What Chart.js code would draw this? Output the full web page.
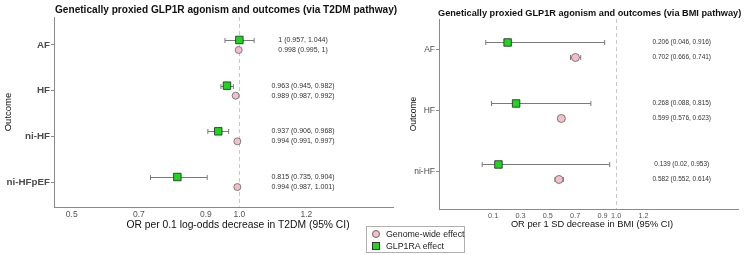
<!DOCTYPE html>
<html>
<head>
<meta charset="utf-8">
<script src="https://cdn.jsdelivr.net/npm/chart.js@4/dist/chart.umd.min.js"></script>
<style>
  html, body { margin: 0; padding: 0; background: #ffffff; }
  body { width: 745px; height: 255px; position: relative; overflow: hidden; font-family: "Liberation Sans", Arial, sans-serif; }
  #c1 { position: absolute; left: 0; top: 0; }
  #c2 { position: absolute; left: 400px; top: 0; }
  #legend { position: absolute; left: 366px; top: 226px; width: 99px; height: 27px; border: 1px solid #b0b0b0; background: #fff; box-sizing: border-box; font-size: 8.8px; color: #222; }
  .li { position: absolute; left: 5px; height: 12px; line-height: 12px; white-space: nowrap; }
  .li span.m { display: inline-block; vertical-align: middle; margin-right: 6px; margin-top: -2px; box-sizing: border-box; }
  .circ { width: 8px; height: 8px; border-radius: 50%; background: #f5bfca; border: 1px solid #666; }
  .sq { width: 8px; height: 8px; background: #1ed61e; border: 1px solid #333; }
</style>
</head>
<body>
<canvas id="c1" width="400" height="255"></canvas>
<canvas id="c2" width="345" height="255"></canvas>
<div id="legend">
  <div class="li" style="top:1px"><span class="m circ"></span>Genome-wide effect</div>
  <div class="li" style="top:13px"><span class="m sq"></span>GLP1RA effect</div>
</div>
<script>
// ---------- DATA: left panel (via T2DM pathway) ----------
const t2dmOutcomes = ['AF', 'HF', 'ni-HF', 'ni-HFpEF'];
const t2dmGlp1raEst = [1, 0.963, 0.937, 0.815];
const t2dmGlp1raLo  = [0.957, 0.945, 0.906, 0.735];
const t2dmGlp1raHi  = [1.044, 0.982, 0.968, 0.904];
const t2dmGenomeEst = [0.998, 0.989, 0.994, 0.994];
const t2dmGenomeLo  = [0.995, 0.987, 0.991, 0.987];
const t2dmGenomeHi  = [1, 0.992, 0.997, 1.001];
const t2dmXTicks = [0.5, 0.7, 0.9, 1.0, 1.2];

// ---------- DATA: right panel (via BMI pathway) ----------
const bmiOutcomes = ['AF', 'HF', 'ni-HF'];
const bmiGlp1raEst = [0.206, 0.268, 0.139];
const bmiGlp1raLo  = [0.046, 0.088, 0.02];
const bmiGlp1raHi  = [0.916, 0.815, 0.953];
const bmiGenomeEst = [0.702, 0.599, 0.582];
const bmiGenomeLo  = [0.666, 0.576, 0.552];
const bmiGenomeHi  = [0.741, 0.623, 0.614];
const bmiXTicks = [0.1, 0.3, 0.5, 0.7, 0.9, 1.0, 1.2];

const GREEN = '#1ed61e', PINK = '#f5bfca';

function fmt(e, l, h) { return e + ' (' + l + ', ' + h + ')'; }

function buildPanel(canvasId, p) {
  const n = p.cats.length;
  const gw = [], glp = [];
  for (let i = 0; i < n; i++) {
    glp.push({ x: p.glpEst[i], y: i + 1 - p.dodge, lo: p.glpLo[i], hi: p.glpHi[i] });
    gw.push({ x: p.gwEst[i], y: i + 1 + p.dodge, lo: p.gwLo[i], hi: p.gwHi[i] });
  }
  const forest = {
    id: 'forest_' + canvasId,
    beforeDatasetsDraw(chart) {
      const ctx = chart.ctx, xs = chart.scales.x, ys = chart.scales.y, a = chart.chartArea;
      ctx.save();
      ctx.strokeStyle = '#c8c8c8'; ctx.lineWidth = 1; ctx.setLineDash([4, 3]);
      const rx = Math.round(xs.getPixelForValue(1)) + 0.5;
      ctx.beginPath(); ctx.moveTo(rx, a.top); ctx.lineTo(rx, a.bottom); ctx.stroke();
      ctx.setLineDash([]);
      ctx.strokeStyle = '#7a7a7a'; ctx.lineWidth = 1;
      chart.data.datasets.forEach(ds => {
        ds.data.forEach(d => {
          const y = Math.round(ys.getPixelForValue(d.y)) + 0.5;
          const x1 = xs.getPixelForValue(d.lo), x2 = xs.getPixelForValue(d.hi);
          ctx.beginPath();
          ctx.moveTo(x1, y); ctx.lineTo(x2, y);
          ctx.moveTo(x1, y - p.cap); ctx.lineTo(x1, y + p.cap);
          ctx.moveTo(x2, y - p.cap); ctx.lineTo(x2, y + p.cap);
          ctx.stroke();
        });
      });
      ctx.restore();
    },
    afterDraw(chart) {
      const ctx = chart.ctx, xs = chart.scales.x, ys = chart.scales.y, a = chart.chartArea;
      ctx.save();
      ctx.fillStyle = '#333'; ctx.font = p.labelFont; ctx.textAlign = 'center'; ctx.textBaseline = 'middle';
      const lx = xs.getPixelForValue(p.labelX);
      for (let i = 0; i < n; i++) {
        ctx.fillText(fmt(p.glpEst[i], p.glpLo[i], p.glpHi[i]), lx, ys.getPixelForValue(i + 1 - p.dodge));
        ctx.fillText(fmt(p.gwEst[i], p.gwLo[i], p.gwHi[i]), lx, ys.getPixelForValue(i + 1 + p.dodge));
      }
      ctx.fillStyle = '#111'; ctx.font = p.titleFont; ctx.textAlign = 'left';
      ctx.fillText(p.title, p.titleX, p.titleY);
      ctx.fillStyle = '#111'; ctx.font = p.axisFont; ctx.textAlign = 'center';
      ctx.fillText(p.xTitle, p.xTitleX, p.xTitleY);
      ctx.translate(p.yTitleX, (a.top + a.bottom) / 2);
      ctx.rotate(-Math.PI / 2);
      ctx.font = p.yAxisFont;
      ctx.fillText('Outcome', 0, 0);
      ctx.restore();
    }
  };
  return new Chart(document.getElementById(canvasId), {
    type: 'scatter',
    data: {
      datasets: [
        { label: 'Genome-wide effect', data: gw, pointStyle: 'circle', pointRadius: p.circleR,
          backgroundColor: PINK, borderColor: '#666', borderWidth: 0.8 },
        { label: 'GLP1RA effect', data: glp, pointStyle: 'rect', pointRadius: p.rectR,
          backgroundColor: GREEN, borderColor: '#222', borderWidth: 0.8 }
      ]
    },
    options: {
      responsive: false, animation: false,
      layout: { padding: { top: p.top, right: p.right, left: 0, bottom: 0 } },
      plugins: { legend: { display: false }, tooltip: { enabled: false } },
      scales: {
        x: {
          type: 'linear', min: p.xMin, max: p.xMax,
          afterBuildTicks: s => { s.ticks = p.xTicks.map(v => ({ value: v })); },
          afterFit: s => { s.height = p.xHeight; },
          ticks: { callback: v => (v === 1 ? '1.0' : String(v)), font: { size: p.xTickSize, family: 'Liberation Sans' },
                   color: '#555', padding: 2.5, maxRotation: 0, minRotation: 0, autoSkip: false },
          grid: { display: false, drawTicks: false, tickLength: 0 },
          border: { display: true, color: '#8a8a8a', width: 1 }
        },
        y: {
          type: 'linear', reverse: true, min: p.yMin, max: p.yMax,
          afterBuildTicks: s => { s.ticks = p.cats.map((c, i) => ({ value: i + 1 })); },
          afterFit: s => { s.width = p.yWidth; },
          ticks: { callback: v => p.cats[v - 1], font: { size: p.yTickSize, weight: p.yTickWeight, family: 'Liberation Sans' },
                   color: '#4d4d4d', padding: 1, autoSkip: false },
          grid: { drawOnChartArea: false, drawTicks: true, tickLength: 3, color: '#8a8a8a' },
          border: { display: true, color: '#8a8a8a', width: 1 }
        }
      }
    },
    plugins: [forest]
  });
}

buildPanel('c1', {
  cats: t2dmOutcomes, glpEst: t2dmGlp1raEst, glpLo: t2dmGlp1raLo, glpHi: t2dmGlp1raHi,
  gwEst: t2dmGenomeEst, gwLo: t2dmGenomeLo, gwHi: t2dmGenomeHi, xTicks: t2dmXTicks,
  dodge: 0.11, cap: 2.5, xMin: 0.447, xMax: 1.461, yMin: 0.387, yMax: 4.547,
  top: 17, right: 3, xHeight: 48, yWidth: 54,
  labelX: 1.19, labelFont: '7px "Liberation Sans"',
  title: 'Genetically proxied GLP1R agonism and outcomes (via T2DM pathway)', titleFont: 'bold 10.1px "Liberation Sans"', titleX: 55, titleY: 10,
  xTitle: 'OR per 0.1 log-odds decrease in T2DM (95% CI)', axisFont: '10.3px "Liberation Sans"', xTitleX: 238, xTitleY: 225,
  yTitleX: 8, yAxisFont: '9.5px "Liberation Sans"',
  xTickSize: 8.5, yTickSize: 9.8, yTickWeight: 'bold', circleR: 3.5, rectR: 5.3
});

buildPanel('c2', {
  cats: bmiOutcomes, glpEst: bmiGlp1raEst, glpLo: bmiGlp1raLo, glpHi: bmiGlp1raHi,
  gwEst: bmiGenomeEst, gwLo: bmiGenomeLo, gwHi: bmiGenomeHi, xTicks: bmiXTicks,
  dodge: 0.123, cap: 2.5, xMin: -0.296, xMax: 1.898, yMin: 0.492, yMax: 3.607,
  top: 19, right: 0, xHeight: 46, yWidth: 39,
  labelX: 1.48, labelFont: '6.5px "Liberation Sans"',
  title: 'Genetically proxied GLP1R agonism and outcomes (via BMI pathway)', titleFont: 'bold 9.2px "Liberation Sans"', titleX: 38, titleY: 13,
  xTitle: 'OR per 1 SD decrease in BMI (95% CI)', axisFont: '9.3px "Liberation Sans"', xTitleX: 192, xTitleY: 224,
  yTitleX: 14, yAxisFont: '8.5px "Liberation Sans"',
  xTickSize: 7.3, yTickSize: 8.5, yTickWeight: 'normal', circleR: 4, rectR: 5.3
});
</script>
</body>
</html>
